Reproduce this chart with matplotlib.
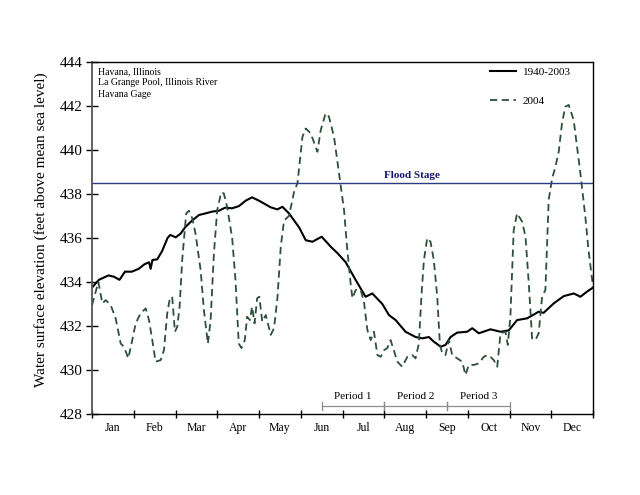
import matplotlib
matplotlib.use("Agg")
import matplotlib.pyplot as plt
import numpy as np

plt.rcParams['font.family'] = ['Liberation Serif', 'DejaVu Serif']

months = ['Jan', 'Feb', 'Mar', 'Apr', 'May', 'Jun', 'Jul', 'Aug', 'Sep', 'Oct', 'Nov', 'Dec']

# long-term mean 1940-2003 (day of year, elevation ft)
mean_day = [0, 5, 12, 16, 20, 24, 29, 34, 38, 41.5, 42.7, 44, 47.5, 51, 55, 57, 61, 64.5, 68, 73,
            78, 81.5, 87.5, 92.4, 97, 102, 107, 112, 116.6, 121.5, 125, 130, 135, 138.7, 143.5,
            151, 155.7, 160.6, 167.3, 174, 179, 184.8, 192, 199.3, 204.2, 211.5, 216.3, 221.2,
            228.4, 235.7, 240.6, 245.4, 248.8, 254, 257.5, 261.2, 266, 273.3, 277, 281.8, 290.3,
            297.6, 303.6, 309.7, 317, 325.4, 329, 336.4, 343.7, 351, 355.8, 360.6, 365]
mean_elev = [433.75, 434.1, 434.3, 434.24, 434.1, 434.47, 434.47, 434.6, 434.8, 434.9, 434.6, 435.0,
             435.03, 435.4, 436.0, 436.14, 436.03, 436.2, 436.5, 436.8, 437.05, 437.1, 437.2, 437.24,
             437.38, 437.35, 437.45, 437.7, 437.85, 437.7, 437.58, 437.4, 437.3, 437.42, 437.12,
             436.47, 435.9, 435.83, 436.06, 435.6, 435.3, 434.9, 434.1, 433.33, 433.48, 433.0,
             432.5, 432.27, 431.74, 431.5, 431.44, 431.5, 431.3, 431.06, 431.14, 431.5, 431.7,
             431.74, 431.9, 431.67, 431.85, 431.74, 431.8, 432.27, 432.35, 432.65, 432.6, 433.03,
             433.36, 433.48, 433.33, 433.56, 433.75]

# 2004 (day of year, elevation ft)
y2004_day = [0, 4.6, 7.5, 10, 13.6, 17.2, 20.9, 23.3, 26.4, 29.3, 31.8, 35.4, 39.1, 41.5, 43.9,
             46.3, 50, 52.4, 54.8, 56.7, 58.4, 60.4, 62.1, 63.8, 65.7, 68.6, 70.6, 73, 75.4, 79.1,
             81.5, 84.4, 86.4, 88.8, 91.2, 94.1, 96, 98.4, 102.1, 104.5, 106.9, 108.9, 111.3, 113,
             115, 116.6, 118.4, 120.3, 121.9, 124, 126.6, 130.2, 132.6, 135.1, 137.5, 139.9, 143.5,
             147.2, 149.7, 153.3, 155.7, 159.3, 164.2, 166.6, 170.2, 172.6, 176.3, 179.9, 183.6,
             186, 188.4, 189.7, 192.1, 195.7, 198.1, 200.6, 203, 205.4, 207.9, 210.3, 212.7, 215.1,
             217.5, 219.9, 222.4, 226, 229.7, 233.3, 235.7, 238.1, 240.1, 241.8, 244.2, 246.6, 249,
             251.5, 253.4, 255.1, 257.5, 260, 262.4, 266.1, 269.7, 272.1, 274.5, 278.1, 281.8,
             285.4, 287.9, 290.3, 292.7, 295.2, 297.6, 301.2, 302.9, 304.8, 307.2, 309.7, 313.4,
             315.8, 318.2, 320.6, 323, 325.4, 327.9, 330.3, 332.7, 335.2, 337.6, 340, 342.4, 344.8,
             347.3, 350.9, 355.8, 359.4, 361.7, 365]
y2004_elev = [432.95, 434.0, 433.03, 433.18, 432.95, 432.35, 431.2, 431.06, 430.53, 431.36, 432.12,
              432.58, 432.8, 432.27, 431.36, 430.38, 430.45, 430.9, 432.58, 433.26, 433.33, 431.74,
              431.97, 432.88, 435.0, 437.12, 437.24, 436.9, 436.2, 434.55, 432.73, 431.2, 432.27,
              435.3, 437.27, 438.07, 438.03, 437.42, 436.0, 434.1, 431.2, 431.0, 431.36, 432.42,
              432.27, 432.88, 432.12, 433.26, 433.33, 432.2, 432.5, 431.6, 431.9, 433.3, 435.6,
              436.8, 437.0, 438.1, 438.5, 440.6, 440.98, 440.76, 439.92, 440.9, 441.67, 441.52,
              440.6, 438.94, 437.27, 435.45, 433.94, 433.26, 433.64, 433.64, 433.1, 431.82, 431.36,
              431.74, 430.68, 430.6, 430.9, 431.0, 431.36, 430.9, 430.38, 430.15, 430.6, 430.68,
              430.53, 431.2, 433.48, 435.0, 436.0, 435.83, 435.0, 433.33, 431.2, 430.76, 430.68,
              431.36, 430.68, 430.53, 430.38, 429.77, 430.23, 430.23, 430.3, 430.6, 430.68, 430.6,
              430.45, 430.15, 431.67, 431.74, 431.14, 432.42, 436.36, 437.12, 436.74, 436.06,
              433.94, 431.44, 431.36, 431.67, 433.33, 433.64, 437.73, 438.7, 439.24, 439.92, 441.21,
              441.97, 442.05, 441.36, 438.94, 436.97, 435.45, 433.79]

flood_stage = 438.5
# periods in months from Jan 1
periods = ['Period 1', 'Period 2', 'Period 3']
period_start = [5.5, 7.0, 8.5]
period_end = [7.0, 8.5, 10.0]

info_text = 'Havana, Illinois\nLa Grange Pool, Illinois River\nHavana Gage'

fig = plt.figure(figsize=(6.4, 4.95), dpi=100)
ax = fig.add_axes([0.1438, 0.1636, 0.7828, 0.7111])

to_month = lambda d: np.asarray(d) * 12 / 365.0

ax.plot(to_month(mean_day), mean_elev, color='black', lw=1.5, label='1940-2003')
ax.plot(to_month(y2004_day), y2004_elev, color='#2d4f3c', lw=1.3, ls=(0, (4, 2.5)), label='2004')

ax.axhline(flood_stage, color='#2b3a85', lw=1.0)
ax.text(7.67, flood_stage + 0.15, 'Flood Stage', ha='center', va='bottom',
        fontsize=8, fontweight='bold', color='#15156b')

for name, s, e in zip(periods, period_start, period_end):
    ax.plot([s, e], [428.38, 428.38], color='#8c8c8c', lw=0.9)
    ax.plot([s, s], [428.2, 428.56], color='#8c8c8c', lw=0.9)
    ax.plot([e, e], [428.2, 428.56], color='#8c8c8c', lw=0.9)
    ax.text((s + e) / 2, 428.6, name, ha='center', va='bottom', fontsize=8)

ax.text(0.012, 0.985, info_text, transform=ax.transAxes, ha='left', va='top',
        fontsize=7, linespacing=1.3)

ax.legend(loc='upper right', bbox_to_anchor=(0.975, 1.015), frameon=False, fontsize=8,
          handlelength=2.3, labelspacing=1.8, handletextpad=0.6)

ax.set_xlim(0, 12)
ax.set_ylim(428, 444)
ax.set_xticks(np.arange(0, 13))
ax.set_xticklabels([])
ax.set_xticks(np.arange(0.5, 12), minor=True)
ax.set_xticklabels(months, minor=True, fontsize=8.5)
ax.tick_params(axis='x', which='major', direction='inout', length=6, width=1)
ax.tick_params(axis='x', which='minor', length=0, pad=6)
ax.set_yticks(np.arange(428, 445, 2))
ax.tick_params(axis='y', direction='inout', length=8, width=1, labelsize=11, pad=3)
ax.set_ylabel('Water surface elevation (feet above mean sea level)', fontsize=11)
ax.yaxis.set_label_coords(-0.088, 0.524)

for sp in ax.spines.values():
    sp.set_linewidth(1.0)
ax.spines['left'].set_color('#555555')
ax.spines['left'].set_linewidth(1.3)

fig.savefig('out.png', dpi=100)
